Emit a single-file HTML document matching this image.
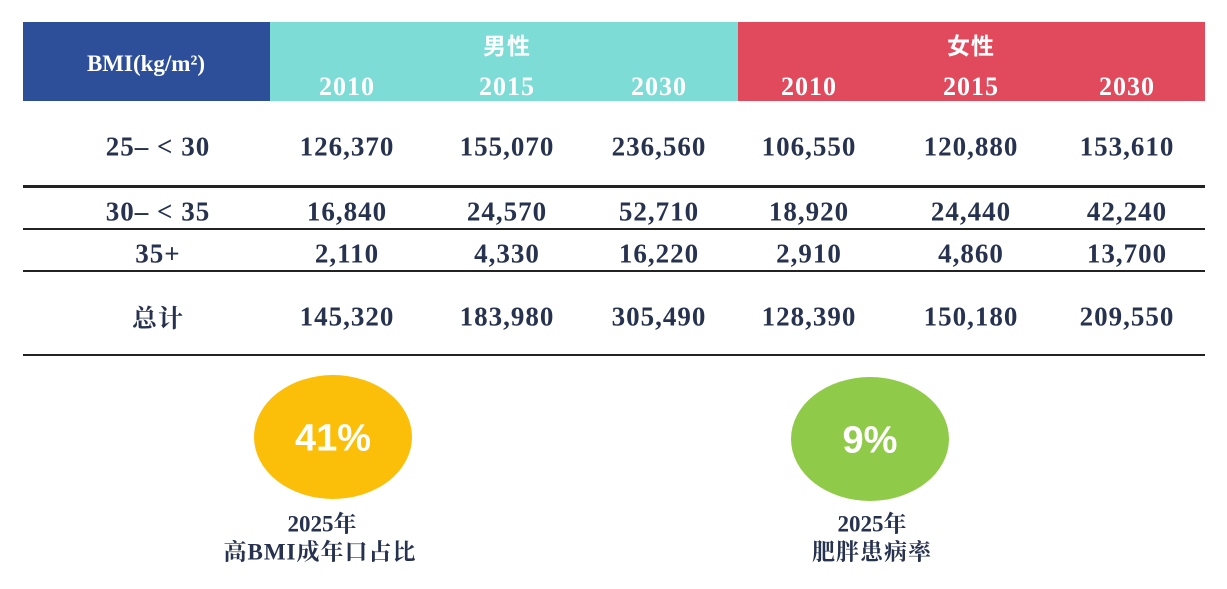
<!DOCTYPE html>
<html><head><meta charset="utf-8"><style>
body{margin:0;width:1227px;height:589px;background:#fff;position:relative;overflow:hidden;font-family:"Liberation Serif","Noto Serif CJK SC",serif;color:#27324f;font-weight:bold}
.a{position:absolute}
.c{position:absolute;transform:translate(-50%,-50%);white-space:nowrap}
.n{font-size:27px;letter-spacing:1px}
.h{color:#fff;font-size:26px;letter-spacing:1px}
.line{position:absolute;left:23px;width:1182px;background:#222}
</style></head><body>
<div class="a" style="left:23px;top:22px;width:247px;height:79px;background:#2d4f9a"></div>
<div class="a" style="left:270px;top:22px;width:468px;height:79px;background:#7ddcd5"></div>
<div class="a" style="left:738px;top:22px;width:467px;height:79px;background:#e04a5c"></div>
<div class="c h" style="left:146px;top:64px;font-size:23px;letter-spacing:0">BMI(kg/m²)</div>
<div class="c h" style="left:507px;top:44px;font-family:'Noto Sans CJK SC',sans-serif;font-size:23px">男性</div>
<div class="c h" style="left:971px;top:44px;font-family:'Noto Sans CJK SC',sans-serif;font-size:23px">女性</div>
<div class="c h" style="left:347px;top:87px">2010</div><div class="c h" style="left:507px;top:87px">2015</div><div class="c h" style="left:659px;top:87px">2030</div>
<div class="c h" style="left:809px;top:87px">2010</div><div class="c h" style="left:971px;top:87px">2015</div><div class="c h" style="left:1127px;top:87px">2030</div>

<div class="c n" style="left:158px;top:147px">25– &lt; 30</div>
<div class="c n" style="left:347px;top:147px">126,370</div><div class="c n" style="left:507px;top:147px">155,070</div><div class="c n" style="left:659px;top:147px">236,560</div>
<div class="c n" style="left:809px;top:147px">106,550</div><div class="c n" style="left:971px;top:147px">120,880</div><div class="c n" style="left:1127px;top:147px">153,610</div>
<div class="line" style="top:185px;height:3px"></div>
<div class="c n" style="left:158px;top:212px">30– &lt; 35</div>
<div class="c n" style="left:347px;top:212px">16,840</div><div class="c n" style="left:507px;top:212px">24,570</div><div class="c n" style="left:659px;top:212px">52,710</div>
<div class="c n" style="left:809px;top:212px">18,920</div><div class="c n" style="left:971px;top:212px">24,440</div><div class="c n" style="left:1127px;top:212px">42,240</div>
<div class="line" style="top:228px;height:2px"></div>
<div class="c n" style="left:158px;top:254px">35+</div>
<div class="c n" style="left:347px;top:254px">2,110</div><div class="c n" style="left:507px;top:254px">4,330</div><div class="c n" style="left:659px;top:254px">16,220</div>
<div class="c n" style="left:809px;top:254px">2,910</div><div class="c n" style="left:971px;top:254px">4,860</div><div class="c n" style="left:1127px;top:254px">13,700</div>
<div class="line" style="top:270px;height:2px"></div>
<div class="c n" style="left:158px;top:317px;font-family:'Noto Serif CJK SC',serif;font-size:25px">总计</div>
<div class="c n" style="left:347px;top:317px">145,320</div><div class="c n" style="left:507px;top:317px">183,980</div><div class="c n" style="left:659px;top:317px">305,490</div>
<div class="c n" style="left:809px;top:317px">128,390</div><div class="c n" style="left:971px;top:317px">150,180</div><div class="c n" style="left:1127px;top:317px">209,550</div>
<div class="line" style="top:354px;height:2px"></div>

<div class="a" style="left:254px;top:375px;width:158px;height:124px;border-radius:50%;background:#fbbf0a"></div>
<div class="c" style="left:333px;top:439px;color:#fff;font-family:'Liberation Sans',sans-serif;font-size:38px">41%</div>
<div class="a" style="left:791px;top:377px;width:158px;height:124px;border-radius:50%;background:#8fcb48"></div>
<div class="c" style="left:870px;top:441px;color:#fff;font-family:'Liberation Sans',sans-serif;font-size:38px">9%</div>
<div class="c" style="left:322px;top:522px;font-size:23px">2025年</div>
<div class="c" style="left:320px;top:550px;font-size:23px;letter-spacing:1px">高BMI成年口占比</div>
<div class="c" style="left:872px;top:522px;font-size:23px">2025年</div>
<div class="c" style="left:872px;top:550px;font-size:23px;letter-spacing:1px">肥胖患病率</div>
</body></html>
